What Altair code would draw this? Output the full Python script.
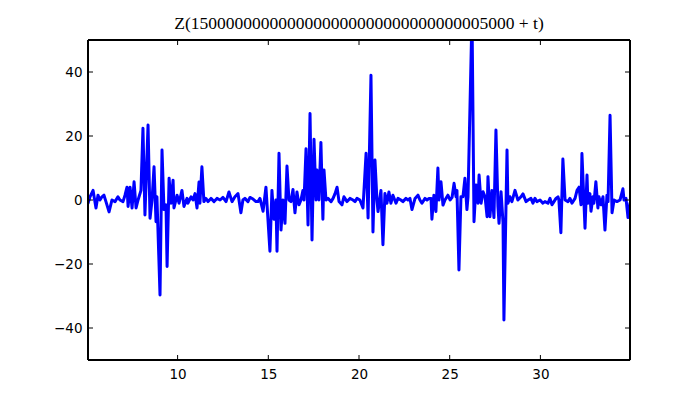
import altair as alt
import pandas as pd

# Values
t_vals = [
    5.06, 5.17, 5.34, 5.50, 5.61, 5.72, 5.83, 5.94, 6.05, 6.22, 6.38, 6.55, 6.71, 6.82, 6.99, 7.10,
    7.21, 7.27, 7.38, 7.49, 7.60, 7.71, 7.82, 7.98, 8.09, 8.20, 8.37, 8.48, 8.59, 8.70, 8.81, 8.86,
    9.03, 9.14, 9.25, 9.36, 9.42, 9.53, 9.64, 9.75, 9.80, 9.97, 10.08, 10.24, 10.35, 10.52, 10.57,
    10.74, 10.85, 10.96, 11.07, 11.18, 11.23, 11.34, 11.45, 11.56, 11.68, 11.84, 12.01, 12.17, 12.34,
    12.50, 12.67, 12.83, 13.00, 13.16, 13.33, 13.49, 13.60, 13.71, 13.88, 13.99, 14.16, 14.32, 14.43,
    14.54, 14.71, 14.87, 15.09, 15.20, 15.31, 15.42, 15.48, 15.59, 15.70, 15.81, 15.92, 16.03, 16.14,
    16.25, 16.36, 16.47, 16.58, 16.69, 16.80, 16.91, 16.97, 17.08, 17.19, 17.30, 17.41, 17.52, 17.63,
    17.68, 17.79, 17.90, 18.01, 18.07, 18.18, 18.29, 18.46, 18.57, 18.68, 18.79, 18.90, 19.06, 19.17,
    19.34, 19.50, 19.67, 19.78, 19.89, 20.05, 20.22, 20.39, 20.50, 20.66, 20.77, 20.88, 20.99, 21.05,
    21.21, 21.32, 21.43, 21.54, 21.65, 21.76, 21.87, 22.04, 22.15, 22.31, 22.42, 22.59, 22.70, 22.81,
    22.92, 23.09, 23.25, 23.36, 23.47, 23.64, 23.75, 23.86, 23.97, 24.02, 24.13, 24.24, 24.35, 24.41,
    24.52, 24.63, 24.74, 24.90, 25.02, 25.13, 25.24, 25.35, 25.40, 25.51, 25.62, 25.73, 25.84, 25.95,
    26.01, 26.23, 26.34, 26.45, 26.56, 26.62, 26.73, 26.84, 26.95, 27.06, 27.11, 27.22, 27.33, 27.44,
    27.55, 27.66, 27.72, 27.83, 27.94, 27.99, 28.16, 28.21, 28.32, 28.43, 28.60, 28.76, 28.93, 29.04,
    29.21, 29.32, 29.48, 29.59, 29.70, 29.81, 29.98, 30.14, 30.25, 30.42, 30.53, 30.64, 30.75, 30.86,
    30.97, 31.02, 31.13, 31.24, 31.36, 31.52, 31.63, 31.74, 31.91, 32.02, 32.13, 32.24, 32.29, 32.46,
    32.57, 32.62, 32.73, 32.79, 32.90, 32.95, 33.06, 33.17, 33.23, 33.34, 33.45, 33.56, 33.67, 33.73,
    33.84, 33.95, 34.06, 34.22, 34.39, 34.55, 34.61, 34.72, 34.83, 34.94,
]
z_vals = [
    -1, 1, 3, -2.5, 1.5, 0, 1, 1.5, -0.5, -3.7, 0, -0.5, 1, 0, -0.5, 1.5,
    4, -2, 4, -2.5, 5.7, -2.5, 0, 3, 22.4, -4.7, 23.4, -5.7, 0, 10.4, -6.8, 1,
    -29.7, 15.6, -3, -1.5, -20.8, 6.8, -1, 6.2, -2.5, 1.5, -1, 3, -2, 0.5, -1,
    1, 0, 2, -2.5, 5.6, -1, 10.4, -0.5, 0.5, -0.5, 0.5, -0.5, 0.5, 0,
    0.8, -0.5, 2.5, -0.5, 1, 2, -4, 0, 0.5, -0.5, 0.8, 0.3, -0.5, -0.5,
    0.5, -3.5, 4, -16, 3, -6, 0, -16, 14.6, -9.4, 0, -7.3, 10.6, 0,
    -0.5, 3.3, -4, 2.5, -1.5, 0, 3, 0, 16, -7.8, 27, -12.5, 19, 0,
    9.4, 0, 18, -6, 9.4, 0, 0.5, -0.5, 0.5, 2, 4, -0.5, -1.5, 1,
    -0.5, 0.5, 0, -0.5, 0.5, 0, -2.5, 14.6, -5.6, 39, -10, 12.5, 0, -3.6,
    3, -14, 2, -1, 2.5, -1, 1.5, -1, 0.5, 0, -0.5, 0.5, 0, 0.5,
    -3, 0.5, 1.5, 0, -1, 0.5, 0, 0.5, 0.5, -6, 1.5, -3.6, 10, 0,
    5.7, -1.6, 0, 1.5, 0, 0.8, 5.2, 1, 3, -21.9, 1, 1, 6.8, -3,
    1, 58, -6.8, 4.7, -1, 7.8, -1, 2.6, 1, -5.2, 7.3, -5.2, 3, -5.5,
    21.9, -2, -7.3, 2.6, -7, -37.5, 15.6, -1, 1, -0.5, 3, 0, 1, 1.9,
    -0.5, 0, 0.5, -1, 0.5, -0.5, 0, -1, -0.5, -1, 0.5, -1.5, -0.5, 0.5,
    1, 0, -10.2, 12.8, 0, -0.5, 0.5, -1, 0.5, 3, 4, -1.5, 14.5, -8.8,
    7.8, -1, 2, -3.5, 1, -1, 5.7, -2.5, 1, -1.5, 1, -9.4, 1.5, -0.5,
    26.5, -4, 0, -0.5, 0, 3.5, 0, 0.5, -5.5, -1,
]
x_ticks = [10, 15, 20, 25, 30]
y_ticks = [-40, -20, 0, 20, 40]
x_domain = [5.06, 34.94]
y_domain = [-50, 50]
TITLE = "Z(15" + "0" * 31 + "5000 + t)"

df = pd.DataFrame({"t": t_vals, "z": z_vals})
xt = pd.DataFrame({"t": x_ticks})
yt = pd.DataFrame({"z": y_ticks})

W, H = 542, 320
TK = 5
xs = alt.Scale(domain=x_domain, nice=False, zero=False)
ys = alt.Scale(domain=y_domain, nice=False, zero=False)

minus = "replace(datum.label, '-', '\u2212')"
x_axis = alt.Axis(values=x_ticks, title=None, ticks=False, domain=False, grid=False,
                  labelFont="DejaVu Sans", labelFontSize=13.5, labelColor="black",
                  labelPadding=7, labelExpr=minus)
y_axis = alt.Axis(values=y_ticks, title=None, ticks=False, domain=False, grid=False,
                  labelFont="DejaVu Sans", labelFontSize=13.5, labelColor="black",
                  labelPadding=6, labelExpr=minus)

X = alt.X("t:Q", scale=xs, axis=x_axis)
Y = alt.Y("z:Q", scale=ys, axis=y_axis)

line = alt.Chart(df).mark_line(color="#0000ff", strokeWidth=3, clip=True,
                               strokeJoin="round", strokeCap="round").encode(x=X, y=Y)

frame = alt.Chart(df).mark_rect(fill=None, stroke="black", strokeWidth=1).encode(
    x=alt.value(0), x2=alt.value(W), y=alt.value(0), y2=alt.value(H))

xb = alt.Chart(xt).mark_rule(color="black", strokeWidth=1).encode(
    x=X, y=alt.value(H), y2=alt.value(H - TK))
xtop = alt.Chart(xt).mark_rule(color="black", strokeWidth=1).encode(
    x=X, y=alt.value(0), y2=alt.value(TK))
yl = alt.Chart(yt).mark_rule(color="black", strokeWidth=1).encode(
    y=Y, x=alt.value(0), x2=alt.value(TK))
yr = alt.Chart(yt).mark_rule(color="black", strokeWidth=1).encode(
    y=Y, x=alt.value(W), x2=alt.value(W - TK))

chart = alt.layer(line, xb, xtop, yl, yr, frame).properties(
    width=W, height=H,
    padding={"left": 80, "top": 32, "right": 62, "bottom": 32},
    autosize=alt.AutoSizeParams(type="none"),
    title=alt.TitleParams(TITLE, font="Liberation Serif", fontSize=17.5, fontWeight="normal",
                          color="black", anchor="middle", offset=7),
).configure_view(stroke=None).configure(background="white")

chart.save("out.html", embed_options={"renderer": "svg", "actions": False})
